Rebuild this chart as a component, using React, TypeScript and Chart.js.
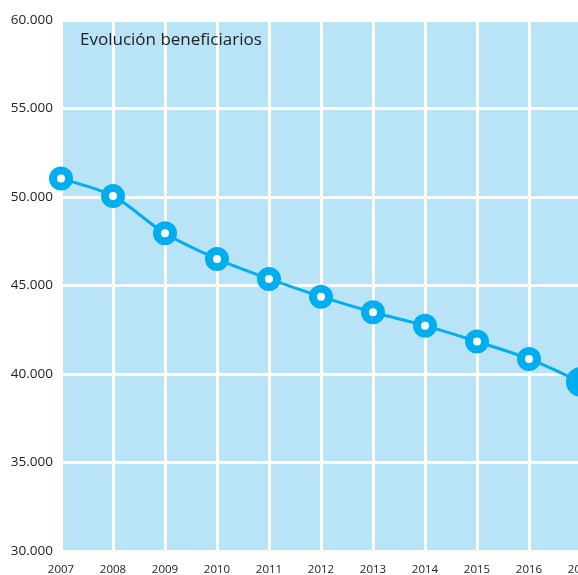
import React, { useEffect, useRef } from "react";
import { Chart, registerables } from "chart.js";

Chart.register(...registerables);

const years: string[] = ["2007", "2008", "2009", "2010", "2011", "2012", "2013", "2014", "2015", "2016", "2017"];
const beneficiarios: number[] = [51050, 50050, 47950, 46500, 45370, 44370, 43490, 42730, 41830, 40850, 39550];
const yMin = 30000;
const yMax = 60000;
const yStep = 5000;
const titleText = "Evolución beneficiarios";

const LINE = "#00AEEF";
const BG = "#B9E3F7";
const TEXT = "#222222";

function fmt(v: number): string {
  const s = Math.round(v).toString();
  return s.replace(/\B(?=(\d{3})+(?!\d))/g, ".");
}

export default function App() {
  const ref = useRef<HTMLCanvasElement | null>(null);
  useEffect(() => {
    if (!ref.current) return;
    const bgPlugin = {
      id: "bgPlugin",
      beforeDraw(chart: any) {
        const { ctx, chartArea } = chart;
        ctx.save();
        ctx.fillStyle = BG;
        ctx.fillRect(chartArea.left, chartArea.top, chartArea.right - chartArea.left, chartArea.bottom - chartArea.top);
        ctx.restore();
      },
      afterDraw(chart: any) {
        const { ctx, chartArea } = chart;
        ctx.save();
        ctx.fillStyle = TEXT;
        ctx.font = "17px 'Open Sans'";
        ctx.textBaseline = "middle";
        ctx.textAlign = "left";
        ctx.fillText(titleText, chartArea.left + 19, chartArea.top + 20);
        ctx.restore();
      },
    };
    const n = beneficiarios.length;
    const chart = new Chart(ref.current, {
      type: "line",
      data: {
        labels: years,
        datasets: [
          {
            data: beneficiarios,
            borderColor: LINE,
            borderWidth: 3,
            tension: 0.35,
            clip: false as any,
            pointRadius: (c: any) => (c.dataIndex === n - 1 ? 15 : 8),
            pointBorderWidth: (c: any) => (c.dataIndex === n - 1 ? 0 : 8),
            pointBackgroundColor: (c: any) => (c.dataIndex === n - 1 ? LINE : "#ffffff"),
            pointBorderColor: LINE,
            pointHoverRadius: (c: any) => (c.dataIndex === n - 1 ? 15 : 8),
          },
        ],
      },
      options: {
        animation: false,
        responsive: false,
        devicePixelRatio: 1,
        layout: { padding: { left: 0, top: 20, right: 59, bottom: 0 } },
        plugins: { legend: { display: false }, tooltip: { enabled: false }, title: { display: false } },
        scales: {
          x: {
            grid: { color: "#ffffff", lineWidth: 3, drawTicks: false },
            border: { display: false },
            ticks: {
              autoSkip: false,
              maxRotation: 0,
              padding: 12,
              color: TEXT,
              font: { family: "'Open Sans'", size: 11.5 },
            },
            afterFit(scale: any) {
              scale.height = 24;
            },
          },
          y: {
            min: yMin,
            max: yMax,
            grid: { color: "#ffffff", lineWidth: 3, drawTicks: false },
            border: { display: false },
            ticks: {
              stepSize: yStep,
              padding: 8,
              color: TEXT,
              font: { family: "'Open Sans'", size: 13.5 },
              callback: (v: any) => fmt(Number(v)),
            },
            afterFit(scale: any) {
              scale.width = 61;
            },
          },
        },
      },
      plugins: [bgPlugin],
    });
    return () => chart.destroy();
  }, []);
  return (
    <div style={{ position: "fixed", left: 0, top: 0, width: 578, height: 575, overflow: "hidden", background: "#fff" }}>
      <canvas ref={ref} width={640} height={575} style={{ width: 640, height: 575, display: "block" }} />
    </div>
  );
}
